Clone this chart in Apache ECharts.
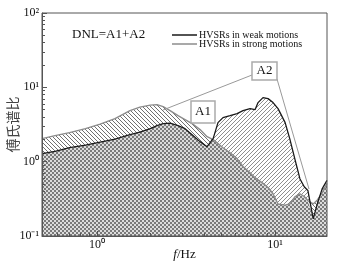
<!DOCTYPE html>
<html>
<head>
<meta charset="utf-8">
<script src="https://cdn.jsdelivr.net/npm/echarts@6/dist/echarts.min.js"></script>
<style>
html, body { margin: 0; padding: 0; background: #fff; }
#main { width: 337px; height: 265px; }
</style>
</head>
<body>
<div id="main"></div>
<script>
// frequency (Hz) and spectral ratios
var freq = [0.49, 0.58, 0.70, 0.86, 1.04, 1.26, 1.53, 1.74, 1.99, 2.17, 2.35, 2.57, 2.85, 3.12, 3.42, 3.79, 4.15, 4.49, 4.78, 5.10,
            5.59, 6.12, 6.61, 7.24, 7.72, 8.03, 8.56, 9.14, 9.75, 10.4, 11.4, 12.1, 13.0, 13.8, 14.6, 15.3, 16.4, 17.2, 18.4, 19.6];
var weak = [1.28, 1.38, 1.54, 1.67, 1.83, 2.01, 2.31, 2.50, 2.78, 3.05, 3.25, 3.30, 3.05, 2.78, 2.31, 1.86, 1.59, 2.04, 3.35, 3.91,
            4.16, 4.43, 4.86, 5.17, 5.01, 6.23, 7.27, 7.05, 6.23, 5.17, 3.35, 2.04, 1.03, 0.59, 0.46, 0.41, 0.17, 0.26, 0.43, 0.56];
var strong = [2.04, 2.24, 2.46, 2.78, 3.20, 3.79, 4.86, 5.41, 5.76, 5.85, 5.50, 4.86, 4.16, 3.68, 3.25, 2.70, 2.17, 1.98, 1.75, 1.54,
              1.32, 1.10, 0.86, 0.71, 0.61, 0.57, 0.51, 0.45, 0.37, 0.27, 0.26, 0.27, 0.34, 0.37, 0.34, 0.30, 0.27, 0.30, 0.38, 0.51];

var xTickValues = [1, 10];
var xTickLabels = ['10⁰', '10¹'];
var yTickValues = [0.1, 1, 10, 100];
var yTickLabels = ['10⁻¹', '10⁰', '10¹', '10²'];
var xMinorTicks = [0.6, 0.7, 0.8, 0.9, 2, 3, 4, 5, 6, 7, 8, 9];
var yMinorTicks = [0.2, 0.3, 0.4, 0.5, 0.6, 0.7, 0.8, 0.9, 2, 3, 4, 5, 6, 7, 8, 9, 20, 30, 40, 50, 60, 70, 80, 90];

var serif = 'Liberation Serif';

function pairs(vals) {
  var out = [];
  for (var i = 0; i < freq.length; i++) out.push([freq[i], vals[i]]);
  return out;
}
var lower = [];
for (var i = 0; i < freq.length; i++) lower.push(Math.min(weak[i], strong[i]));

// fill patterns
function pattern(draw) {
  var c = document.createElement('canvas');
  c.width = 4; c.height = 4;
  var ctx = c.getContext('2d');
  ctx.fillStyle = '#fff';
  ctx.fillRect(0, 0, 4, 4);
  draw(ctx);
  return { image: c, repeat: 'repeat' };
}
var hatchBack = pattern(function (ctx) {   // A1: "\\\"
  ctx.fillStyle = '#707070';
  for (var k = 0; k < 4; k++) ctx.fillRect(k, k, 1, 1);
});
var hatchFwd = pattern(function (ctx) {    // A2: "///"
  ctx.fillStyle = '#8e8e8e';
  for (var k = 0; k < 4; k++) ctx.fillRect(k, 3 - k, 1, 1);
});
var checker = pattern(function (ctx) {
  ctx.fillStyle = '#dcdcdc';
  ctx.fillRect(0, 0, 4, 4);
  ctx.fillStyle = '#7a7a7a';
  ctx.fillRect(0, 0, 2, 2);
  ctx.fillRect(2, 2, 2, 2);
});

function tickFormatter(values, labels) {
  return function (v) {
    for (var i = 0; i < values.length; i++) {
      if (Math.abs(Math.log10(v) - Math.log10(values[i])) < 1e-6) return labels[i];
    }
    return '';
  };
}

var myChart = echarts.init(document.getElementById('main'));
var option = {
  animation: false,
  title: {
    text: 'DNL=A1+A2',
    left: 72, top: 28, padding: 0,
    textStyle: { fontFamily: serif, fontSize: 13, fontWeight: 'normal', color: '#111' }
  },
  legend: {
    left: 172, top: 30, padding: 0,
    orient: 'vertical',
    icon: 'rect',
    itemWidth: 25, itemHeight: 1.5,
    itemGap: -1,
    textStyle: { fontFamily: serif, fontSize: 10, color: '#111', lineHeight: 9, padding: [0, 0, 0, -3] },
    data: ['HVSRs in weak motions', 'HVSRs in strong motions']
  },
  grid: {
    left: 42, right: 10, top: 13, bottom: 29,
    outerBoundsMode: 'none', containLabel: false,
    show: true, borderColor: '#555', borderWidth: 1, z: 10
  },
  xAxis: [{
    type: 'log', min: 0.49, max: 19.6, position: 'bottom', z: 10,
    name: '{i|f}/Hz', nameLocation: 'middle', nameGap: 12, nameMoveOverlap: false,
    nameTextStyle: {
      fontFamily: serif, fontSize: 13, color: '#111',
      rich: { i: { fontFamily: serif, fontSize: 13, fontStyle: 'italic', color: '#111' } }
    },
    axisLine: { lineStyle: { color: '#555', width: 1 } },
    axisTick: { inside: true, length: 5, lineStyle: { color: '#555' } },
    axisLabel: {
      margin: 3, showMinLabel: false, showMaxLabel: false,
      fontFamily: serif, fontSize: 12, color: '#111',
      formatter: tickFormatter(xTickValues, xTickLabels)
    },
    splitLine: { show: false }
  }, {
    type: 'log', min: 0.49, max: 19.6, position: 'bottom', z: 10,
    axisLine: { show: false },
    axisTick: { inside: true, length: 3, customValues: xMinorTicks, lineStyle: { color: '#555' } },
    axisLabel: { show: false },
    splitLine: { show: false }
  }],
  yAxis: [{
    type: 'log', min: 0.1, max: 100, position: 'left', z: 10,
    name: '傅氏谱比', nameLocation: 'middle', nameRotate: 90, nameGap: 22, nameMoveOverlap: false,
    nameTextStyle: { fontFamily: 'Noto Sans CJK SC', fontSize: 14, color: '#444' },
    axisLine: { lineStyle: { color: '#555', width: 1 } },
    axisTick: { inside: true, length: 5, lineStyle: { color: '#555' } },
    axisLabel: {
      margin: 3, fontFamily: serif, fontSize: 12, color: '#111',
      formatter: tickFormatter(yTickValues, yTickLabels)
    },
    splitLine: { show: false }
  }, {
    type: 'log', min: 0.1, max: 100, position: 'left', z: 10,
    axisLine: { show: false },
    axisTick: { inside: true, length: 3, customValues: yMinorTicks, lineStyle: { color: '#555' } },
    axisLabel: { show: false },
    splitLine: { show: false }
  }],
  series: [
    {
      type: 'line', data: pairs(strong), symbol: 'none', silent: true, z: 1,
      lineStyle: { opacity: 0 },
      areaStyle: { color: hatchBack, opacity: 1, origin: 'start' }
    },
    {
      type: 'line', data: pairs(weak), symbol: 'none', silent: true, z: 2,
      lineStyle: { opacity: 0 },
      areaStyle: { color: hatchFwd, opacity: 1, origin: 'start' }
    },
    {
      type: 'line', data: pairs(lower), symbol: 'none', silent: true, z: 3,
      lineStyle: { opacity: 0 },
      areaStyle: { color: checker, opacity: 1, origin: 'start' }
    },
    {
      name: 'HVSRs in strong motions', type: 'line', data: pairs(strong), symbol: 'none', z: 4,
      itemStyle: { color: '#8c8c8c' },
      lineStyle: { color: '#8c8c8c', width: 1.4 }
    },
    {
      name: 'HVSRs in weak motions', type: 'line', data: pairs(weak), symbol: 'none', z: 5,
      itemStyle: { color: '#1a1a1a' },
      lineStyle: { color: '#1a1a1a', width: 1.3 }
    }
  ],
  graphic: [
    { type: 'line', z: 100, shape: { x1: 163, y1: 110, x2: 252, y2: 75 }, style: { stroke: '#999', lineWidth: 1 } },
    { type: 'line', z: 100, shape: { x1: 277, y1: 79, x2: 309, y2: 189 }, style: { stroke: '#999', lineWidth: 1 } },
    { type: 'rect', z: 100, shape: { x: 191, y: 101, width: 24, height: 22 }, style: { fill: '#fff', stroke: '#aaa', lineWidth: 1.5 } },
    { type: 'text', z: 101, x: 203, y: 112, style: { text: 'A1', font: '13px "Liberation Serif"', fill: '#111', align: 'center', verticalAlign: 'middle' } },
    { type: 'rect', z: 100, shape: { x: 252, y: 62, width: 25, height: 18 }, style: { fill: '#fff', stroke: '#aaa', lineWidth: 1.5 } },
    { type: 'text', z: 101, x: 264.5, y: 71, style: { text: 'A2', font: '13px "Liberation Serif"', fill: '#111', align: 'center', verticalAlign: 'middle' } }
  ]
};
myChart.setOption(option);
window.addEventListener('resize', function () {
  myChart.resize();
});
</script>
</body>
</html>
